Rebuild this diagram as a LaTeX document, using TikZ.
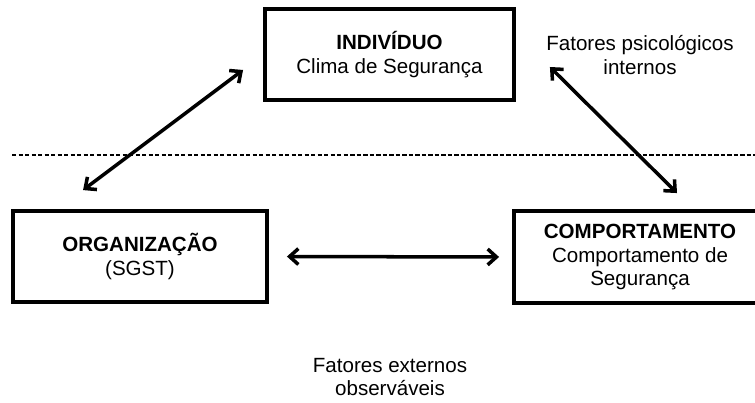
\documentclass[tikz,border=0pt]{standalone}
\usepackage{fontspec}
\setmainfont{Liberation Sans}
\usetikzlibrary{arrows.meta}
\begin{document}
\begin{tikzpicture}[
  font=\fontsize{11.7}{13.6}\selectfont,
  caixa/.style={draw, line width=2.2pt, align=center, minimum height=1.82cm, inner sep=0pt},
  dup/.style={line width=2pt, {Straight Barb[length=5pt,width=9pt]}-{Straight Barb[length=5pt,width=9pt]}}
]
\useasboundingbox (0,0) rectangle (15.1,-8.06);
\draw[line width=0.8pt, dash pattern=on 2.5pt off 1.2pt] (0.24,-3.1) -- (15.1,-3.1);
\node[caixa, minimum width=4.98cm] (ind) at (7.79,-1.09) {\textbf{INDIVÍDUO}\\Clima de Segurança};
\node[caixa, minimum width=5.08cm] (org) at (2.8,-5.13) {\textbf{ORGANIZAÇÃO}\\(SGST)};
\node[caixa, minimum width=5.04cm, minimum height=1.84cm] (comp) at (12.8,-5.14) {\textbf{COMPORTAMENTO}\\Comportamento de\\Segurança};
\node[align=center] (int) at (12.8,-1.1) {Fatores psicológicos\\internos};
\node[align=center] (ext) at (7.8,-7.54) {Fatores externos\\observáveis};
\draw[dup] ([shift={(1.44,0.38)}]org.north west) -- ([shift={(-0.4,-0.31)}]ind.west);
\draw[dup] ([shift={(0.68,-0.25)}]ind.east) -- ([shift={(0.74,0.32)}]comp.north);
\draw[dup, shorten <=0.36cm, shorten >=0.26cm] (org.east) -- (comp.west);
\end{tikzpicture}
\end{document}
